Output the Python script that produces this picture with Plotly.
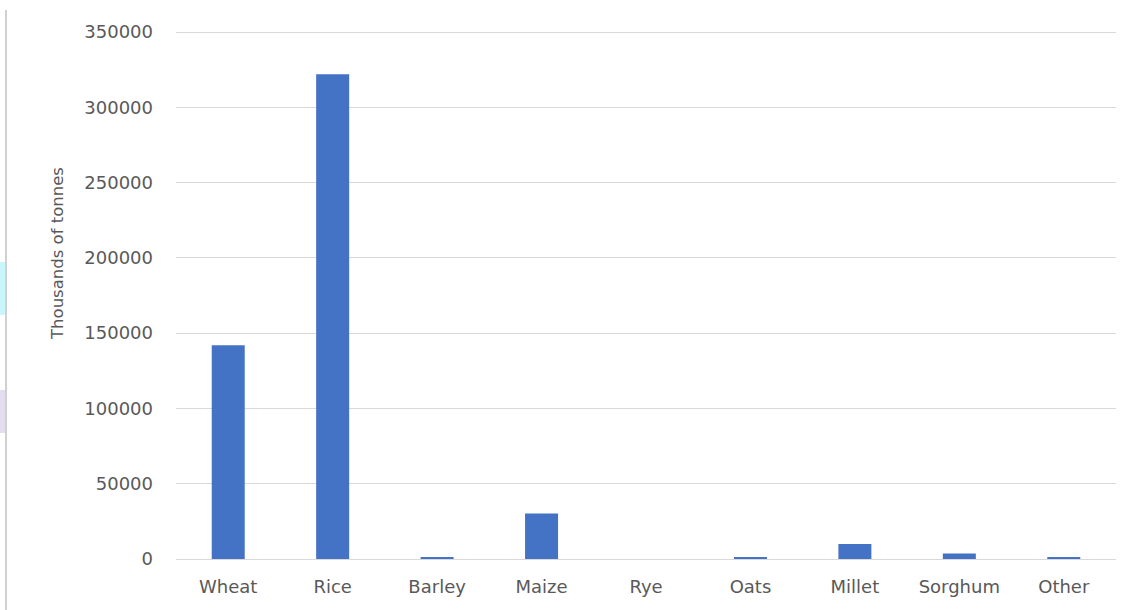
import plotly.graph_objects as go

categories = ["Wheat", "Rice", "Barley", "Maize", "Rye", "Oats", "Millet", "Sorghum", "Other"]
production = [142000, 322000, 1300, 30200, 0, 1000, 10000, 3700, 1000]
y_ticks = [0, 50000, 100000, 150000, 200000, 250000, 300000, 350000]

L, R, T, B = 176, 14, 32, 51
W, H = 1130, 610
pw, ph = W - L - R, H - T - B

def px(x):
    return (x - L) / pw

def py(y):
    return (H - B - y) / ph

fig = go.Figure(go.Bar(
    x=categories, y=production,
    marker=dict(color="#4472C4", line=dict(width=0)),
))

fig.update_layout(
    width=W, height=H,
    margin=dict(l=L, r=R, t=T, b=B),
    plot_bgcolor="white", paper_bgcolor="white",
    bargap=0.684,
    showlegend=False,
    font=dict(family="DejaVu Sans", color="#595959", size=17),
)
fig.update_xaxes(
    showgrid=False, showline=True, linecolor="#d9d9d9", linewidth=1,
    ticks="outside", ticklen=0, tickcolor="rgba(0,0,0,0)",
    ticklabelstandoff=11,
    tickfont=dict(size=18, family="DejaVu Sans", color="#595959"),
)
fig.update_yaxes(
    range=[0, 350000], tickvals=y_ticks, ticktext=[str(v) for v in y_ticks],
    showgrid=True, gridcolor="#d9d9d9", gridwidth=1,
    zeroline=False, showline=False,
    ticklabelstandoff=22,
    tickfont=dict(size=18, family="DejaVu Sans", color="#595959"),
)
fig.add_shape(type="line", xref="paper", yref="paper",
              x0=0, x1=1, y0=py(32.5), y1=py(32.5),
              line=dict(color="#d9d9d9", width=1), layer="below")
fig.add_annotation(
    text="Thousands of tonnes", textangle=-90,
    xref="paper", yref="paper", x=px(57.5), y=py(253.5),
    showarrow=False, xanchor="center", yanchor="middle",
    font=dict(size=16.5, family="DejaVu Sans", color="#595959"),
)
fig.add_shape(type="rect", xref="paper", yref="paper",
              x0=px(0), x1=px(5), y0=py(315), y1=py(262),
              fillcolor="#c8f6fa", line=dict(width=0), layer="below")
fig.add_shape(type="rect", xref="paper", yref="paper",
              x0=px(0), x1=px(5), y0=py(433), y1=py(390),
              fillcolor="#e4ddef", line=dict(width=0), layer="below")
fig.add_shape(type="line", xref="paper", yref="paper",
              x0=px(6), x1=px(6), y0=py(610), y1=py(10),
              line=dict(color="#d0d0d0", width=2))

fig.write_html("out.html")
